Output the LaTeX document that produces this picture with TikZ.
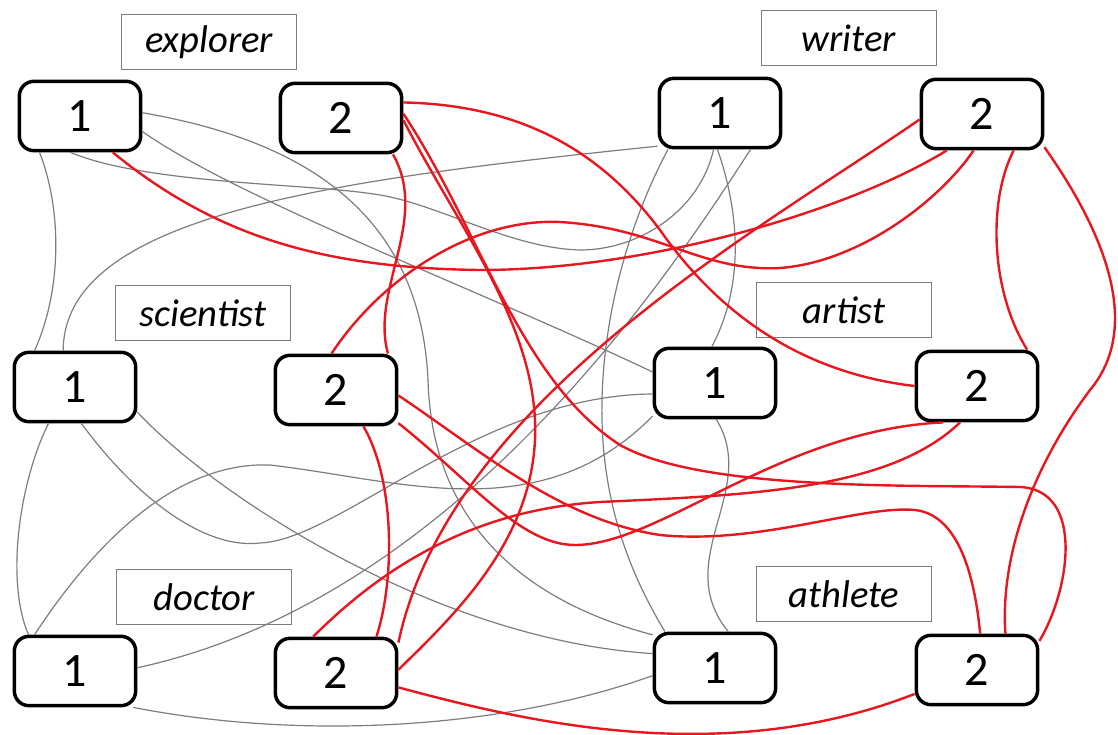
\documentclass[tikz,border=0pt]{standalone}
\usepackage{fontspec}
\setmainfont{Carlito}
\usepackage{tikz}
\usetikzlibrary{positioning}

\definecolor{linkred}{RGB}{232,22,30}
\definecolor{linkgray}{RGB}{125,125,125}

\tikzset{
  numbox/.style={draw, line width=2.6pt, rounded corners=11pt, fill=white,
    minimum width=91pt, minimum height=52pt, inner sep=0pt,
    font=\fontsize{36}{38}\selectfont},
  rolebox/.style={draw=linkgray, line width=0.9pt, fill=white,
    minimum width=131pt, minimum height=41pt, inner sep=0pt,
    font=\fontsize{29}{31}\selectfont\itshape},
  graylink/.style={draw=linkgray, line width=0.9pt},
  redlink/.style={draw=linkred, line width=1.8pt}
}

\begin{document}
\begin{tikzpicture}[x=0.75pt,y=-0.75pt]
  \useasboundingbox (0,0) rectangle (1118,735);

  % role labels
  \node[rolebox] (explorer) at (209,42) {explorer};
  \node[rolebox] (writer) at (849,38) {writer};
  \node[rolebox] (scientist) at (203,313) {scientist};
  \node[rolebox] (artist) at (844,310) {artist};
  \node[rolebox] (doctor) at (204,597) {doctor};
  \node[rolebox] (athlete) at (844,594) {athlete};

  % numbered boxes
  \node[numbox] (E1) at (80,116) {1};
  \node[numbox] (E2) at (341,118) {2};
  \node[numbox] (W1) at (720,113) {1};
  \node[numbox] (W2) at (982,114) {2};
  \node[numbox] (S1) at (75,387) {1};
  \node[numbox] (S2) at (336,390) {2};
  \node[numbox] (Ar1) at (715,383) {1};
  \node[numbox] (Ar2) at (977,386) {2};
  \node[numbox] (D1) at (75,671) {1};
  \node[numbox] (D2) at (336,673) {2};
  \node[numbox] (At1) at (715,668) {1};
  \node[numbox] (At2) at (977,670) {2};

  % gray links between the 1s
  \draw[graylink] (E1.-138) .. controls (62,210) and (62,290) .. (S1.138);
  \draw[graylink] (E1.-105) .. controls (150,185) and (310,183) .. (380,195)
    .. controls (440,205) and (510,248) .. (580,250)
    .. controls (640,250) and (700,210) .. (W1.-100);
  \draw[graylink] (E1.-14) .. controls (240,200) and (480,290) .. (Ar1.170);
  \draw[graylink] (E1.3) .. controls (300,140) and (420,210) .. (428,380)
    .. controls (432,520) and (520,600) .. (At1.152);
  \draw[graylink] (W1.-152) .. controls (330,180) and (64,215) .. (S1.108);
  \draw[graylink] (W1.-145) .. controls (625,230) and (600,330) .. (602,420)
    .. controls (604,520) and (640,590) .. (At1.144);
  \draw[graylink] (W1.-94) .. controls (742,220) and (742,290) .. (Ar1.95);
  \draw[graylink] (W1.-50) .. controls (660,290) and (450,600) .. (D1.3);
  \draw[graylink] (S1.-126) .. controls (20,480) and (5,580) .. (D1.142);
  \draw[graylink] (S1.-80) .. controls (130,490) and (200,550) .. (260,543)
    .. controls (340,540) and (480,395) .. (Ar1.190);
  \draw[graylink] (S1.-22) .. controls (220,500) and (440,640) .. (At1.167);
  \draw[graylink] (D1.138) .. controls (110,520) and (190,462) .. (270,465)
    .. controls (400,480) and (540,530) .. (Ar1.208);
  \draw[graylink] (D1.-32) .. controls (300,740) and (500,730) .. (At1.187);
  \draw[graylink] (Ar1.-88) .. controls (760,490) and (670,560) .. (At1.70);

  % red links between the 2s
  \draw[redlink] (E1.-48) .. controls (220,240) and (330,268) .. (480,270)
    .. controls (650,270) and (850,210) .. (W2.-134);
  \draw[redlink] (E2.14) .. controls (520,105) and (600,150) .. (660,230)
    .. controls (730,330) and (820,375) .. (Ar2.180);
  \draw[redlink] (S2.97) .. controls (380,280) and (470,218) .. (560,222)
    .. controls (660,228) and (700,272) .. (780,268)
    .. controls (860,262) and (940,200) .. (W2.-103);
  \draw[redlink] (W2.185) .. controls (760,230) and (450,400) .. (D2.26);
  \draw[redlink] (W2.-49) .. controls (988,200) and (990,290) .. (Ar2.36);
  \draw[redlink] (W2.-28) .. controls (1110,240) and (1140,330) .. (1090,390)
    .. controls (1030,470) and (1000,560) .. (At2.52);
  \draw[redlink] (E2.-35) .. controls (430,220) and (370,290) .. (S2.35);
  \draw[redlink] (E2.-2) .. controls (460,230) and (540,330) .. (535,440)
    .. controls (530,540) and (460,610) .. (D2.3);
  \draw[redlink] (E2.4) .. controls (480,230) and (520,380) .. (620,445)
    .. controls (700,490) and (900,485) .. (1020,487)
    .. controls (1085,490) and (1070,590) .. (At2.25);
  \draw[redlink] (S2.-53) .. controls (395,480) and (395,580) .. (D2.42);
  \draw[redlink] (S2.-5) .. controls (480,450) and (560,520) .. (660,535)
    .. controls (760,545) and (860,505) .. (915,510)
    .. controls (960,515) and (975,580) .. (At2.85);
  \draw[redlink] (S2.-28) .. controls (470,480) and (520,545) .. (575,545)
    .. controls (660,545) and (780,430) .. (Ar2.-133);
  \draw[redlink] (D2.122) .. controls (380,570) and (470,510) .. (600,502)
    .. controls (750,495) and (890,490) .. (Ar2.-115);
  \draw[redlink] (D2.-13) .. controls (520,720) and (720,770) .. (At2.201);
\end{tikzpicture}
\end{document}
